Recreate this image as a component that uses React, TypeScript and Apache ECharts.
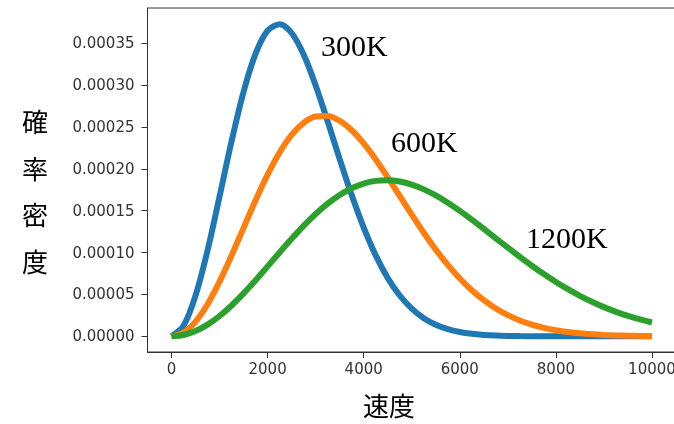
import React, { useEffect, useRef } from "react";
import * as echarts from "echarts";

const speeds = [
  0, 250, 500, 750, 1000, 1250, 1500, 1750, 2000, 2250, 2500, 2750, 3000, 3250,
  3500, 3750, 4000, 4250, 4500, 4750, 5000, 5250, 5500, 5750, 6000, 6250, 6500,
  6750, 7000, 7250, 7500, 7750, 8000, 8250, 8500, 8750, 9000, 9250, 9500, 9750,
  10000,
];

const density300K = [
  0, 1.2611e-5, 4.857e-5, 1.0261e-4, 1.6702e-4, 2.3299e-4, 2.9207e-4, 3.3747e-4,
  3.6488e-4, 3.7272e-4, 3.6217e-4, 3.3637e-4, 2.9954e-4, 2.5655e-4, 2.1165e-4,
  1.6865e-4, 1.2981e-4, 9.666e-5, 6.973e-5, 4.873e-5, 3.304e-5, 2.173e-5,
  1.387e-5, 8.6e-6, 5.18e-6, 3.03e-6, 1.73e-6, 9.5e-7, 5.1e-7, 2.7e-7, 1.4e-7,
  7e-8, 0, 0, 0, 0, 0, 0, 0, 0, 0,
];

const density600K = [
  0, 4.49e-6, 1.761e-5, 3.839e-5, 6.531e-5, 9.642e-5, 1.2955e-4, 1.6247e-4,
  1.9307e-4, 2.1952e-4, 2.4044e-4, 2.5487e-4, 2.6239e-4, 2.6306e-4, 2.5737e-4,
  2.461e-4, 2.3031e-4, 2.1121e-4, 1.899e-4, 1.6756e-4, 1.4525e-4, 1.2367e-4,
  1.0353e-4, 8.523e-5, 6.899e-5, 5.497e-5, 4.313e-5, 3.33e-5, 2.531e-5,
  1.896e-5, 1.4e-5, 1.017e-5, 7.29e-6, 5.15e-6, 3.58e-6, 2.46e-6, 1.66e-6,
  1.11e-6, 7.3e-7, 4.7e-7, 3.0e-7,
];

const density1200K = [
  0, 1.591e-6, 6.305e-6, 1.3965e-5, 2.4285e-5, 3.6885e-5, 5.1305e-5, 6.703e-5,
  8.351e-5, 1.0018e-4, 1.1649e-4, 1.3193e-4, 1.4604e-4, 1.584e-4, 1.6873e-4,
  1.7678e-4, 1.8244e-4, 1.856e-4, 1.8636e-4, 1.8479e-4, 1.8108e-4, 1.7545e-4,
  1.6819e-4, 1.5951e-4, 1.4977e-4, 1.3927e-4, 1.2827e-4, 1.1706e-4, 1.0583e-4,
  9.488e-5, 8.432e-5, 7.43e-5, 6.49e-5, 5.626e-5, 4.833e-5, 4.124e-5, 3.486e-5,
  2.927e-5, 2.436e-5, 2.013e-5, 1.651e-5,
];

const xTicks = [0, 2000, 4000, 6000, 8000, 10000];
const yTicks = [0, 0.00005, 0.0001, 0.00015, 0.0002, 0.00025, 0.0003, 0.00035];
const curveNames = ["300K", "600K", "1200K"];
const colors = ["#1f77b4", "#ff7f0e", "#2ca02c"];
const xTitle = "速度";
const yTitle = ["確", "率", "密", "度"];

export default function App() {
  const ref = useRef<HTMLDivElement>(null);

  useEffect(() => {
    if (!ref.current) return;
    const chart = echarts.init(ref.current, null, { renderer: "svg" });
    const all = [density300K, density600K, density1200K];
    const tickFont = {
      fontFamily: "DejaVu Sans",
      fontSize: 15,
      color: "#333",
    };
    const serif = "Liberation Serif";
    chart.setOption({
      animation: false,
      grid: {
        left: 147.5,
        top: 8,
        right: -2,
        bottom: 72,
        outerBoundsMode: "none",
        containLabel: false,
        show: true,
        borderColor: "#333",
        borderWidth: 1,
        backgroundColor: "#fff",
      },
      xAxis: {
        type: "value",
        min: -500,
        max: 10500,
        axisLine: {
          show: true,
          onZero: false,
          lineStyle: { color: "#333", width: 1 },
        },
        axisTick: {
          show: true,
          length: 6,
          customValues: xTicks,
          lineStyle: { color: "#333" },
        },
        axisLabel: {
          ...tickFont,
          margin: 9,
          customValues: xTicks,
          formatter: (v: number) => String(v),
        },
        splitLine: { show: false },
      },
      yAxis: {
        type: "value",
        min: -0.0000187,
        max: 0.000392,
        axisLine: {
          show: true,
          onZero: false,
          lineStyle: { color: "#333", width: 1 },
        },
        axisTick: {
          show: true,
          length: 6,
          customValues: yTicks,
          lineStyle: { color: "#333" },
        },
        axisLabel: {
          ...tickFont,
          margin: 13,
          customValues: yTicks,
          formatter: (v: number) => v.toFixed(5),
        },
        splitLine: { show: false },
      },
      series: all.map((arr, i) => ({
        type: "line",
        name: curveNames[i],
        data: speeds.map((s, j) => [s, arr[j]]),
        showSymbol: false,
        smooth: 0.3,
        lineStyle: { color: colors[i], width: 6 },
        itemStyle: { color: colors[i] },
      })),
      graphic: [
        {
          type: "text",
          left: 321,
          top: 30,
          style: { text: curveNames[0], font: `30px "${serif}"`, fill: "#000" },
        },
        {
          type: "text",
          left: 391,
          top: 126,
          style: { text: curveNames[1], font: `30px "${serif}"`, fill: "#000" },
        },
        {
          type: "text",
          left: 526,
          top: 222,
          style: { text: curveNames[2], font: `30px "${serif}"`, fill: "#000" },
        },
        {
          type: "text",
          x: 389,
          y: 404,
          style: {
            text: xTitle,
            font: `26px "Noto Sans CJK JP"`,
            fill: "#000",
            textAlign: "center",
            textVerticalAlign: "middle",
          },
        },
        ...yTitle.map((ch, k) => ({
          type: "text",
          x: 35,
          y: 120.5 + k * 46.5,
          style: {
            text: ch,
            font: `26px "Noto Sans CJK JP"`,
            fill: "#000",
            textAlign: "center",
            textVerticalAlign: "middle",
          },
        })),
      ],
    });
    return () => chart.dispose();
  }, []);

  return (
    <div
      ref={ref}
      style={{ position: "fixed", left: 0, top: 0, width: 674, height: 424 }}
    />
  );
}
